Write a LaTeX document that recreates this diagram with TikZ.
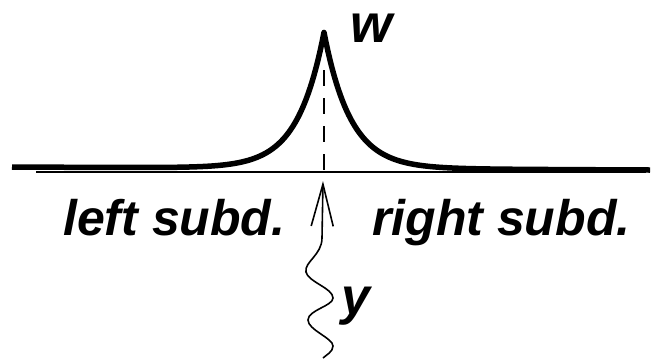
\documentclass[tikz,border=0pt]{standalone}
\usepackage{fontspec}
\setmainfont{Liberation Sans}
\usetikzlibrary{arrows.meta}
\begin{document}
\begin{tikzpicture}[x=1pt,y=-1pt,
  lbl/.style={inner sep=0pt,anchor=base west,font=\fontsize{50}{50}\selectfont\bfseries\itshape},
  peakcurve/.style={line width=5.5pt,line join=round,line cap=butt},
  axis/.style={line width=2pt},
  dashline/.style={line width=2pt,dash pattern=on 16pt off 12pt},
  wave/.style={line width=1.6pt,{Straight Barb[length=42pt,width=22pt,line width=1.6pt]}-}]
\useasboundingbox (0,0) rectangle (652,360);
\draw[axis] (36,172) coordinate (a0) -- (646,172) coordinate (a1);
\draw[peakcurve] plot[domain=12:324,samples=160] (\x,{167+3*(\x-12)/638-136*exp(-abs(\x-324)/26.5)})
  -- plot[domain=324:650,samples=160] (\x,{167+3*(\x-12)/638-136*exp(-abs(\x-324)/26.5)});
\coordinate (top) at (324,70);
\coordinate (foot) at (324,172);
\draw[dashline] (top) -- (foot);
\coordinate (tip) at (323,181);
\coordinate (tail) at (323,358);
\draw[wave] (tip) -- (322,238) .. controls (322,255) and (304,262) .. (306,272)
  .. controls (308,282) and (333,288) .. (333,298)
  .. controls (333,306) and (308,310) .. (308,320)
  .. controls (308,330) and (333,338) .. (333,346)
  .. controls (333,352) and (326,355) .. (tail);
\node[lbl,font=\fontsize{54}{54}\selectfont\bfseries\itshape] (w) at (350,42) {w};
\node[lbl,font=\fontsize{52}{52}\selectfont\bfseries\itshape] (y) at (341,314) {y};
\node[lbl] (ls) at (63,235) {left subd.};
\node[lbl] (rs) at (372,235) {right subd.};
\end{tikzpicture}
\end{document}
